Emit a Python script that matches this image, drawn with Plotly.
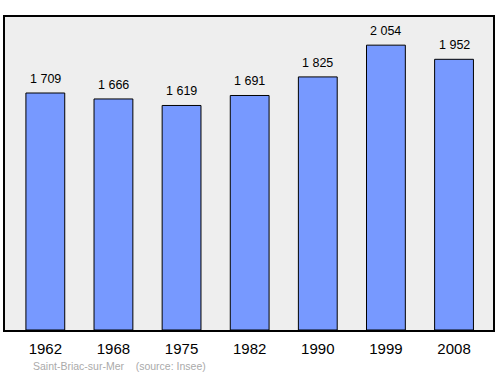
import plotly.graph_objects as go

years = ["1962", "1968", "1975", "1982", "1990", "1999", "2008"]
population = [1709, 1666, 1619, 1691, 1825, 2054, 1952]
labels = ["1 709", "1 666", "1 619", "1 691", "1 825", "2 054", "1 952"]
positions = list(range(len(years)))

fig = go.Figure()
fig.add_trace(go.Bar(
    x=positions, y=population, width=0.57,
    marker=dict(color="#7799ff", line=dict(color="black", width=1)),
    hoverinfo="skip",
))
for xp, yv, lb in zip(positions, population, labels):
    fig.add_annotation(x=xp, y=yv, text=lb, showarrow=False, yanchor="bottom",
                       yshift=5, font=dict(size=12.5, color="black"))
fig.add_annotation(xref="paper", yref="paper", x=0.053, y=-0.09, xanchor="left", yanchor="top",
                   text="Saint-Briac-sur-Mer&nbsp;&nbsp;&nbsp;&nbsp;(source: Insee)", showarrow=False,
                   font=dict(size=10.5, color="#aaaaaa"))

fig.update_layout(
    width=500, height=374,
    margin=dict(l=5, r=5, t=17, b=44),
    paper_bgcolor="white", plot_bgcolor="#eeeeee",
    font=dict(family="Liberation Sans, Arial, sans-serif"),
    showlegend=False,
    xaxis=dict(range=[-0.592, 6.572], tickvals=positions, ticktext=years,
               tickfont=dict(size=15, color="black"), showgrid=False, zeroline=False,
               showline=True, linecolor="black", linewidth=1.5, mirror=True,
               ticks="outside", ticklen=4, tickcolor="rgba(0,0,0,0)"),
    yaxis=dict(range=[0, 2257], showticklabels=False, showgrid=False, zeroline=False,
               showline=True, linecolor="black", linewidth=1.5, mirror=True, ticks=""),
)
fig.write_html("out.html")
